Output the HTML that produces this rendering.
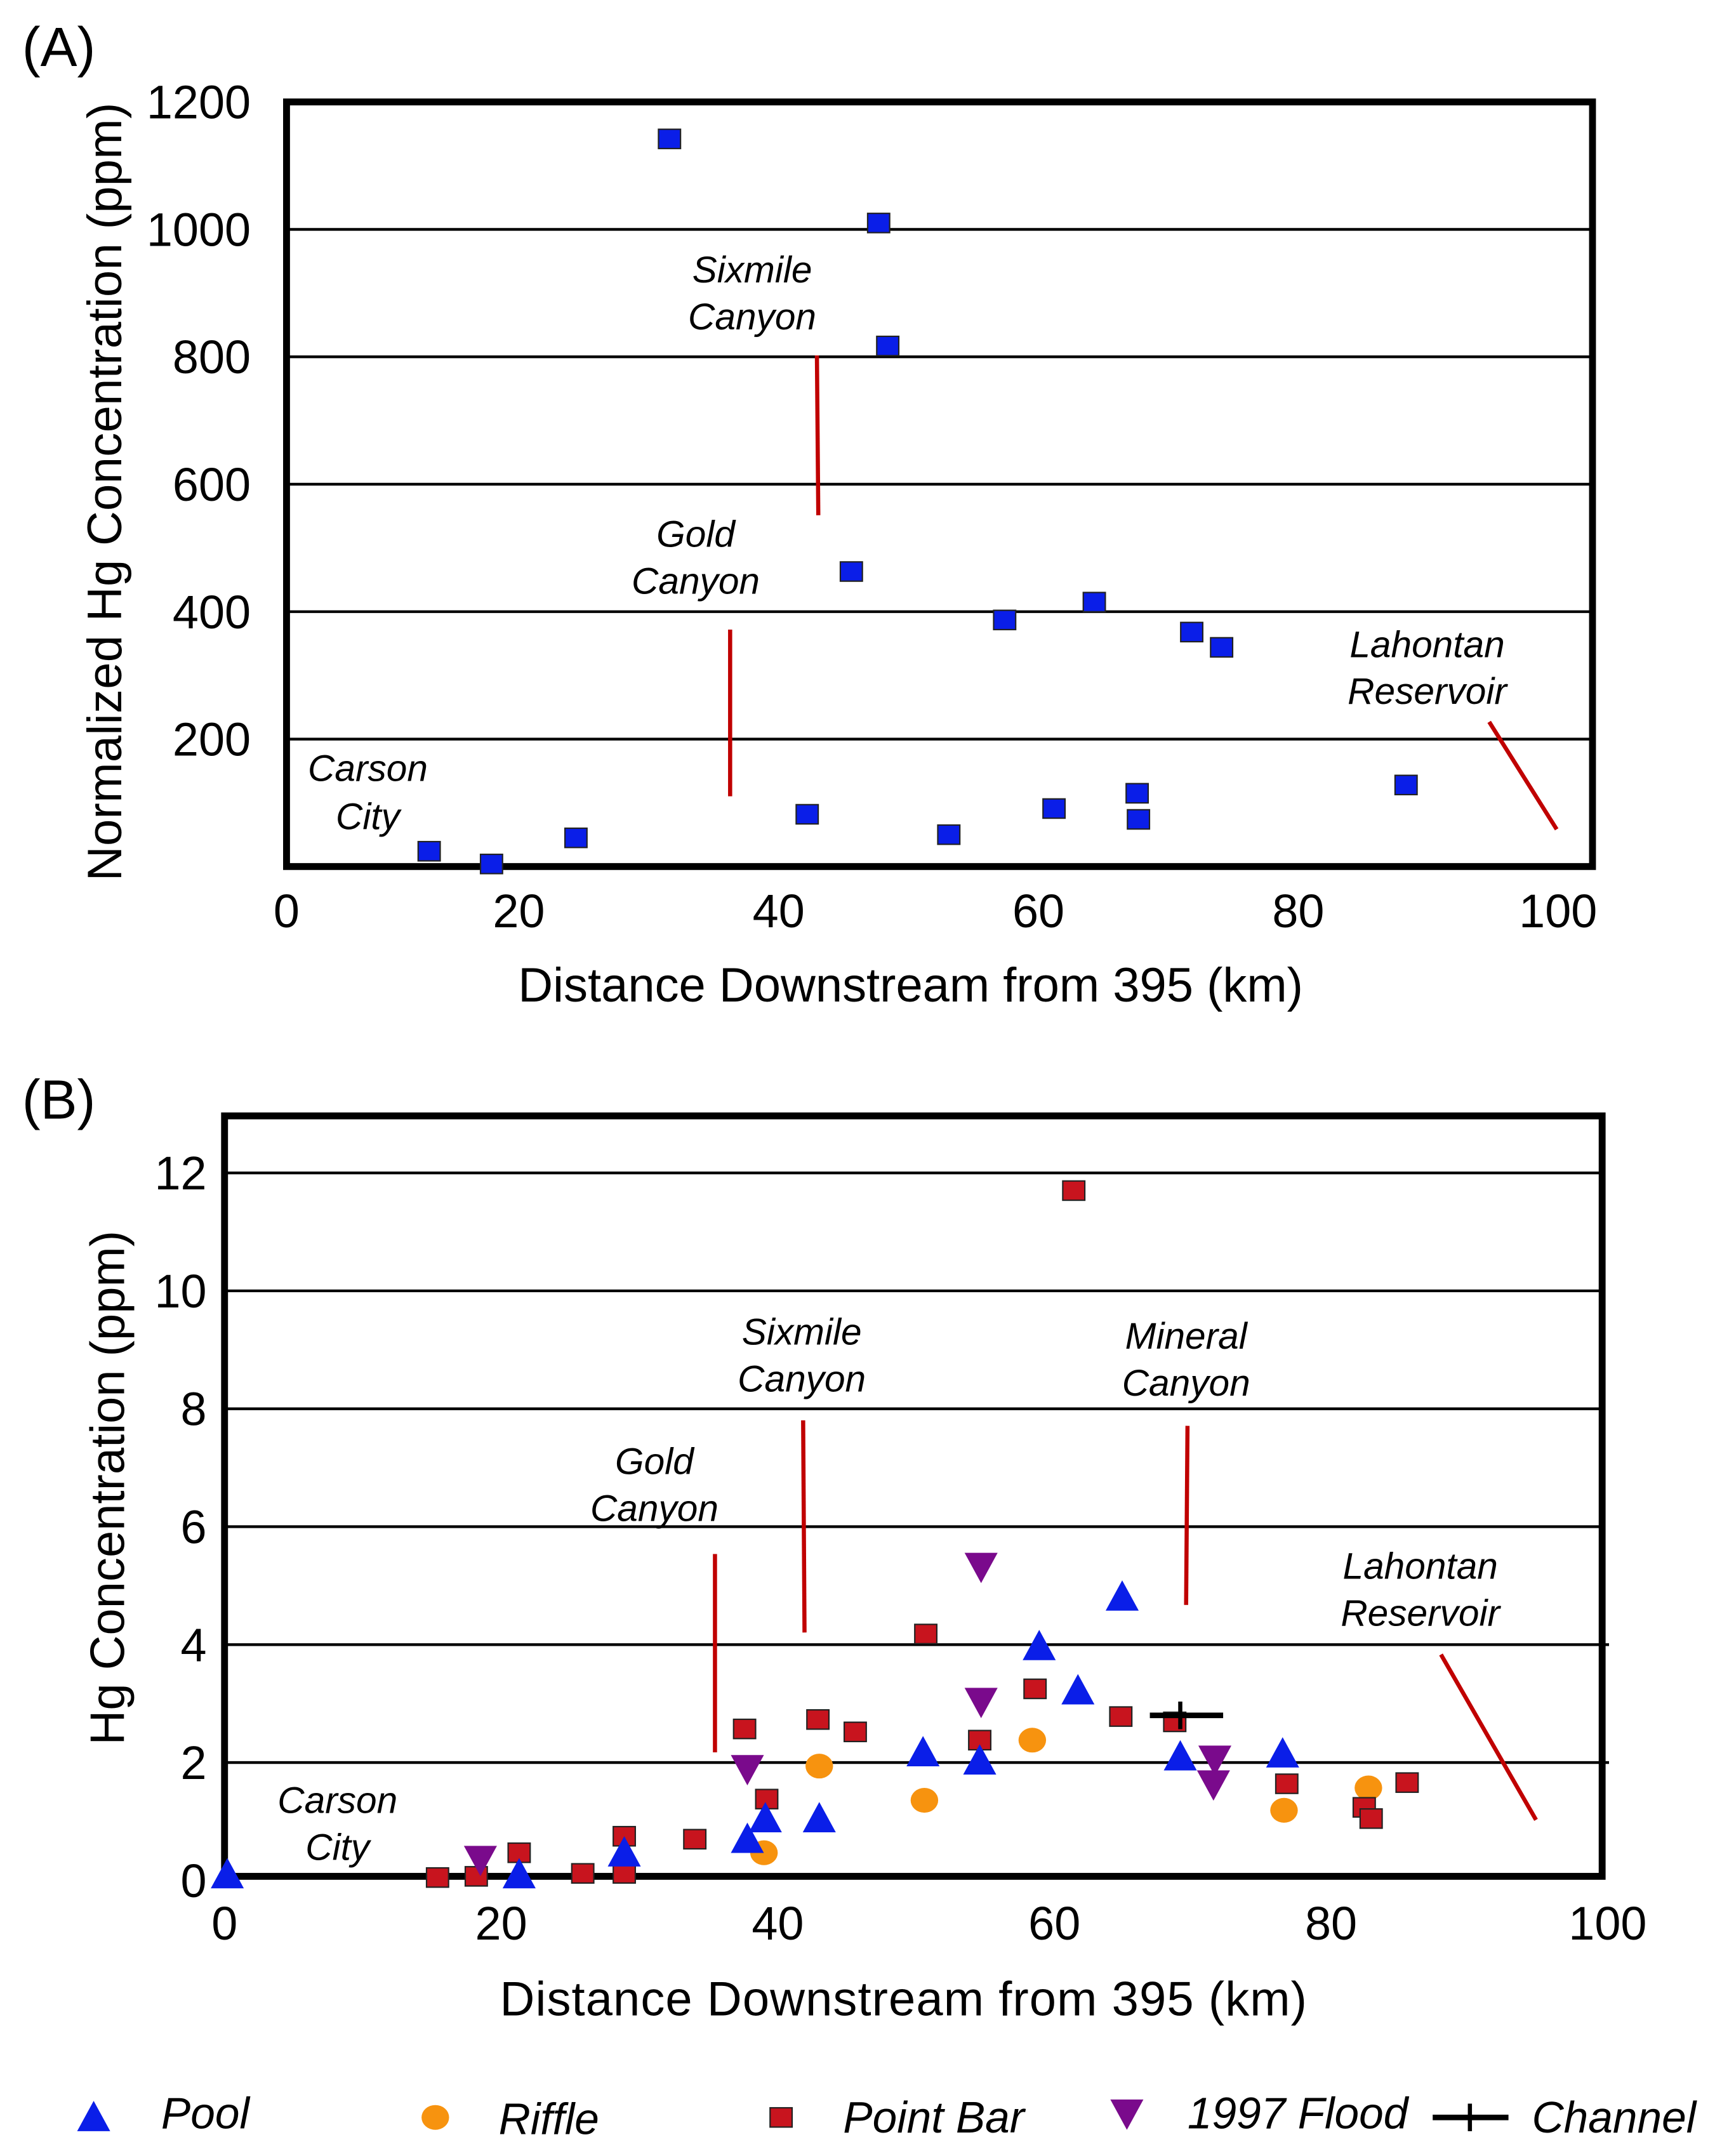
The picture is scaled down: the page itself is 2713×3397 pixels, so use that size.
<!DOCTYPE html>
<html><head><meta charset="utf-8">
<style>
html,body{margin:0;padding:0;background:#fff;}
svg{display:block;}
text{font-family:"Liberation Sans",Arial,sans-serif;fill:#000;}
.it{font-style:italic;font-size:27px;}
.tk{font-size:34px;}
.ttl{font-size:35px;}
</style></head>
<body>
<svg id="fig" width="2713" height="3397" viewBox="0 0 1250 1565" preserveAspectRatio="none" xmlns="http://www.w3.org/2000/svg">
<g id="panelA"></g>
<g id="panelB"></g>
<g id="legend"></g>
</svg>
<script>
// Panel A data
const aDist = [13.1,17.9,24.4,31.6,42.2,45.6,47.7,48.4,53.1,57.4,61.2,64.3,67.6,67.7,71.8,74.1,88.3];
const aHg = [24,4,45,1142,82,463,1010,817,50,387,91,415,115,74,368,344,128];
const aYTicks = [200,400,600,800,1000,1200];
const aXTicks = [0,20,40,60,80,100];
// Panel B data
const poolX = [0.2,21.3,28.9,37.8,39.1,43,50.5,54.6,58.9,61.7,64.9,69.1,76.5];
const poolY = [0.1,0.1,0.47,0.7,1.05,1.05,2.17,2.03,3.97,3.22,4.81,2.1,2.15];
const riffleX = [39,43,50.6,58.4,76.6,82.7];
const riffleY = [0.47,1.94,1.36,2.38,1.19,1.57];
const barX = [15.4,18.2,21.3,25.9,28.9,28.9,34,37.6,39.2,42.9,45.6,50.7,54.6,58.6,61.4,64.8,68.7,76.8,82.4,82.9,85.5];
const barY = [0.05,0.07,0.47,0.12,0.75,0.12,0.7,2.57,1.38,2.73,2.52,4.18,2.38,3.25,11.7,2.78,2.69,1.64,1.24,1.05,1.66];
const floodX = [18.5,37.8,54.7,54.7,71.6,71.5];
const floodY = [0.33,1.87,5.3,3.01,2.03,1.61];
const channelX = [69.1];
const channelY = [2.8];
const channelMin = [66.9];
const channelMax = [72.2];
const bYTicks = [0,2,4,6,8,10,12];
const bXTicks = [0,20,40,60,80,100];

const NS="http://www.w3.org/2000/svg";
function mk(parent,tag,attrs,txt){const e=document.createElementNS(NS,tag);for(const k in attrs)e.setAttribute(k,attrs[k]);if(txt!==undefined)e.textContent=txt;parent.appendChild(e);return e;}

// ---------- Panel A ----------
const A=document.getElementById('panelA');
const ax=d=>188+d*9.43, ay=v=>629-v*0.4625;
let t=mk(A,'text',{x:16,y:48,'font-size':40});t.textContent='(A)';


aYTicks.forEach(v=>{
  if(v<1200){let l=mk(A,'line',{x1:208,x2:1158,y1:ay(v),y2:ay(v),stroke:'#000','stroke-width':2});
  
  }
  let tt=mk(A,'text',{x:182,y:ay(v)+12,'text-anchor':'end',class:'tk'},String(v));
  
  
});
aXTicks.forEach(v=>{
  let x=v===0?208:ax(v);
  let tt=mk(A,'text',{x:x,y:673,'text-anchor':'middle',class:'tk'},String(v));
  
  
});
let fr=mk(A,'rect',{x:208,y:74,width:948,height:555,fill:'none',stroke:'#000','stroke-width':5});


t=mk(A,'text',{x:661,y:727,'text-anchor':'middle',class:'ttl'},'Distance Downstream from 395 (km)');


t=mk(A,'text',{x:0,y:0,'text-anchor':'middle',class:'ttl',transform:'translate(88,357) rotate(-90)','textLength':565,'lengthAdjust':'spacing'},'Normalized Hg Concentration (ppm)');


[[593,258,594,374],[530,457,530,578],[1081,524,1130,602]].forEach(s=>{
  let l=mk(A,'line',{x1:s[0],y1:s[1],x2:s[2],y2:s[3],stroke:'#c00000','stroke-width':3});
  
  
});
[['Sixmile',546,205],['Canyon',546,239],['Gold',505,397],['Canyon',505,431],['Lahontan',1036,477],['Reservoir',1036,511],['Carson',267,567],['City',267,602]].forEach(a=>{
  let e=mk(A,'text',{x:a[1],y:a[2],'text-anchor':'middle',class:'it'},a[0]);
  
  
});
function sq(g,cx,cy,col,name){
  let r=mk(g,'rect',{x:cx-8,y:cy-7,width:16,height:14,fill:col,stroke:'#222','stroke-width':1});
  
  
}
aDist.forEach((d,i)=>sq(A,ax(d),ay(aHg[i]),'#0a1ee8','a-point'));

// ---------- Panel B ----------
const B=document.getElementById('panelB');
const bx=d=>163+d*10.04, by=v=>1365-v*42.8;
t=mk(B,'text',{x:16,y:812,'font-size':40},'(B)');


bYTicks.forEach(v=>{
  if(v>0){let l=mk(B,'line',{x1:163,x2:v===4||v===2?1168:1163,y1:by(v),y2:by(v),stroke:'#000','stroke-width':2});
  
  }
  let tt=mk(B,'text',{x:150,y:by(v)+12,'text-anchor':'end',class:'tk'},String(v));
  
  
});
bXTicks.forEach(v=>{
  let tt=mk(B,'text',{x:bx(v),y:1408,'text-anchor':'middle',class:'tk'},String(v));
  
  
});
fr=mk(B,'rect',{x:163,y:810,width:1000,height:552,fill:'none',stroke:'#000','stroke-width':5});


t=mk(B,'text',{x:656,y:1463,'text-anchor':'middle',class:'ttl','letter-spacing':'0.5'},'Distance Downstream from 395 (km)');


t=mk(B,'text',{x:0,y:0,'text-anchor':'middle',class:'ttl',transform:'translate(90,1080) rotate(-90)'},'Hg Concentration (ppm)');


[[519,1128,519,1272],[583,1031,584,1185],[862,1035,861,1165],[1046,1201,1115,1321]].forEach(s=>{
  let l=mk(B,'line',{x1:s[0],y1:s[1],x2:s[2],y2:s[3],stroke:'#c00000','stroke-width':3});
  
  
});
[['Sixmile',582,976],['Canyon',582,1010],['Mineral',861,979],['Canyon',861,1013],['Gold',475,1070],['Canyon',475,1104],['Lahontan',1031,1146],['Reservoir',1031,1180],['Carson',245,1316],['City',245,1350]].forEach(a=>{
  let e=mk(B,'text',{x:a[1],y:a[2],'text-anchor':'middle',class:'it'},a[0]);
  
  
});
function triUp(g,cx,cy,name){let p=mk(g,'polygon',{points:`${cx},${cy-12} ${cx-12},${cy+10} ${cx+12},${cy+10}`,fill:'#0a1ee8'});
  
  }
function triDn(g,cx,cy,name){let p=mk(g,'polygon',{points:`${cx-12},${cy-11} ${cx+12},${cy-11} ${cx},${cy+11}`,fill:'#7a0a8c'});
  
  }
function circ(g,cx,cy,name){let c=mk(g,'ellipse',{cx:cx,cy:cy,rx:10,ry:9,fill:'#f7930f'});
  
  }
riffleX.forEach((d,i)=>circ(B,bx(d),by(riffleY[i]),'riffle-point'));
barX.forEach((d,i)=>sq(B,bx(d),by(barY[i]),'#c8141e','point-bar-point'));
poolX.forEach((d,i)=>triUp(B,bx(d),by(poolY[i]),'pool-point'));
floodX.forEach((d,i)=>triDn(B,bx(d),by(floodY[i]),'flood-1997-point'));
channelX.forEach((d,i)=>{
  let g=mk(B,'g',{});
  
  
  mk(g,'line',{x1:bx(channelMin[i]),x2:bx(channelMax[i]),y1:by(channelY[i]),y2:by(channelY[i]),stroke:'#000','stroke-width':4});
  mk(g,'line',{x1:bx(d),x2:bx(d),y1:by(channelY[i])-10,y2:by(channelY[i])+10,stroke:'#000','stroke-width':3});
});

// ---------- Legend ----------
const L=document.getElementById('legend');
const ly=1537;
triUp(L,68,ly,'legend-pool-marker');
circ(L,316,ly,'legend-riffle-marker');
sq(L,567,ly,'#c8141e','legend-point-bar-marker');
triDn(L,818,ly-2,'legend-flood-marker');
let lg=mk(L,'g',{});


mk(lg,'line',{x1:1040,x2:1095,y1:ly,y2:ly,stroke:'#000','stroke-width':4});
mk(lg,'line',{x1:1067,x2:1067,y1:ly-10,y2:ly+10,stroke:'#000','stroke-width':3});
[['Pool',117,1545],['Riffle',362,1549],['Point Bar',612,1548],['1997 Flood',862,1545],['Channel',1112,1548]].forEach(a=>{
  let e=mk(L,'text',{x:a[1],y:a[2],'font-style':'italic','font-size':32},a[0]);
  
  
});
</script>
</body></html>
